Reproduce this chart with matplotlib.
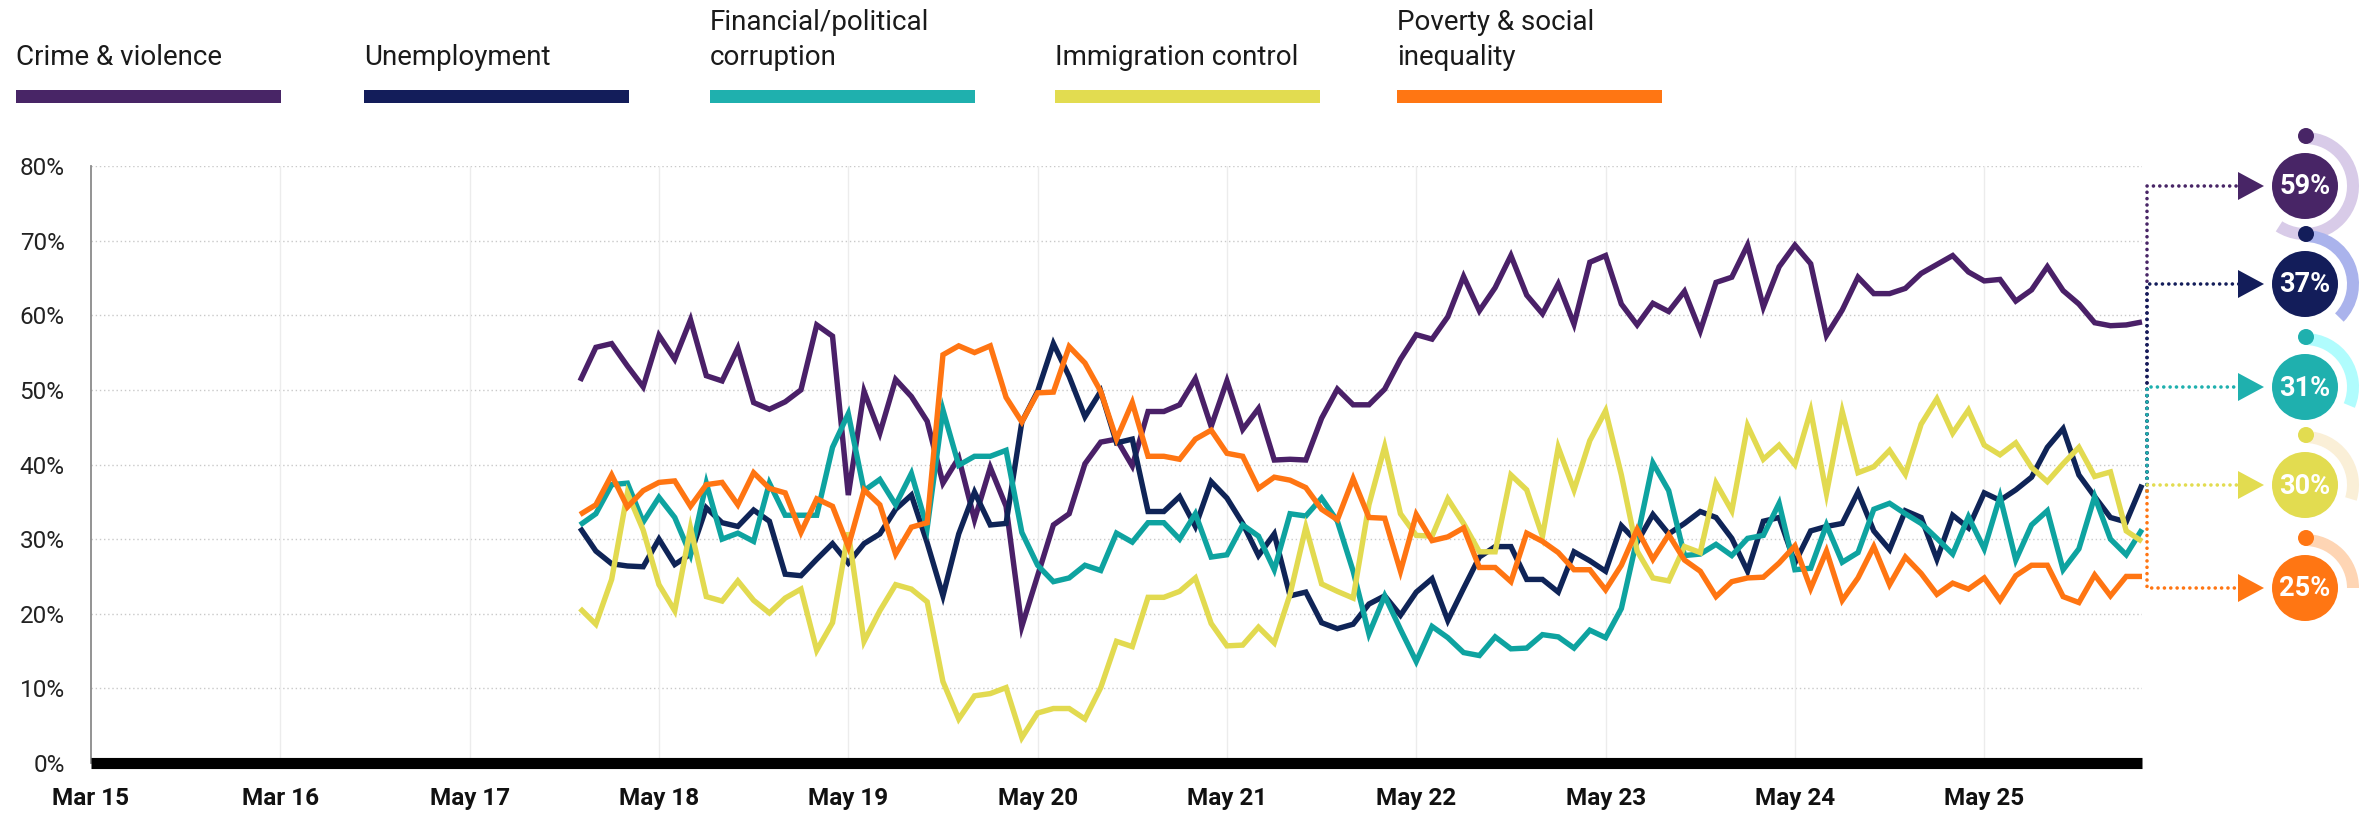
import numpy as np
import matplotlib
matplotlib.use("Agg")
import matplotlib.pyplot as plt
from matplotlib.patches import Circle, Wedge, Polygon, Rectangle

plt.rcParams['font.family'] = ['Roboto', 'DejaVu Sans']

# ---------------- data ----------------
categories = ["Crime & violence", "Unemployment", "Financial/political\ncorruption",
              "Immigration control", "Poverty & social\ninequality"]

tick_labels = ["Mar 15", "Mar 16", "May 17", "May 18", "May 19", "May 20",
               "May 21", "May 22", "May 23", "May 24", "May 25"]
tick_months = [0, 12, 24, 36, 48, 60, 72, 84, 96, 108, 120]

months = np.arange(31, 131)

crime = [51.2, 55.7, 56.2, 53.2, 50.4, 57.3, 54.1, 59.4, 51.9, 51.2,
         55.6, 48.3, 47.4, 48.4, 50.0, 58.7, 57.2, 35.9, 49.8, 44.2,
         51.4, 49.1, 45.8, 37.5, 40.9, 32.6, 39.6, 34.4, 18.3, 25.1,
         31.9, 33.4, 40.1, 43.0, 43.4, 39.8, 47.1, 47.1, 48.0, 51.5,
         45.1, 51.2, 44.7, 47.5, 40.6, 40.7, 40.6, 46.2, 50.1, 48.0,
         48.0, 50.1, 54.1, 57.4, 56.8, 59.8, 65.2, 60.6, 63.7, 68.0,
         62.7, 60.2, 64.2, 58.8, 67.1, 68.0, 61.5, 58.7, 61.6, 60.5,
         63.2, 57.9, 64.4, 65.1, 69.4, 61.1, 66.5, 69.4, 66.9, 57.3,
         60.7, 65.1, 62.9, 62.9, 63.6, 65.6, 66.8, 68.0, 65.8, 64.6,
         64.8, 61.9, 63.4, 66.5, 63.3, 61.5, 59.0, 58.6, 58.7, 59.1]

unemployment = [31.5, 28.4, 26.7, 26.4, 26.3, 30.0, 26.6, 28.0, 34.2, 32.2,
                31.7, 33.9, 32.4, 25.3, 25.1, 27.3, 29.4, 26.8, 29.4, 30.7,
                34.0, 35.9, 29.5, 22.4, 30.7, 36.3, 31.9, 32.1, 45.7, 49.8,
                56.2, 51.8, 46.4, 49.8, 42.9, 43.4, 33.7, 33.7, 35.7, 31.7,
                37.7, 35.5, 32.1, 27.8, 30.7, 22.4, 22.9, 18.8, 18.0, 18.6,
                21.3, 22.4, 19.8, 22.9, 24.7, 19.1, 23.4, 27.6, 29.0, 29.0,
                24.6, 24.6, 22.9, 28.3, 27.1, 25.7, 31.8, 29.6, 33.3, 30.7,
                32.1, 33.7, 32.9, 30.1, 25.7, 32.4, 32.9, 26.8, 31.1, 31.7,
                32.1, 36.3, 31.1, 28.6, 33.8, 32.9, 27.3, 33.2, 31.5, 36.2,
                35.2, 36.6, 38.3, 42.3, 44.8, 38.6, 35.7, 32.9, 32.3, 37.3]

corruption = [31.9, 33.4, 37.3, 37.5, 32.3, 35.6, 32.9, 27.9, 37.5, 30.0,
              30.8, 29.7, 37.5, 33.2, 33.2, 33.2, 42.3, 46.8, 36.5, 38.0,
              34.6, 38.8, 31.5, 47.3, 39.9, 41.1, 41.1, 41.9, 30.9, 26.5,
              24.3, 24.8, 26.5, 25.8, 30.8, 29.6, 32.2, 32.2, 30.0, 33.4,
              27.6, 27.9, 31.9, 30.4, 25.9, 33.4, 33.1, 35.5, 32.4, 25.7,
              17.3, 22.4, 17.9, 13.6, 18.3, 16.8, 14.8, 14.4, 16.9, 15.3,
              15.4, 17.2, 16.9, 15.4, 17.8, 16.8, 20.7, 30.1, 40.2, 36.5,
              27.8, 28.0, 29.3, 27.8, 30.1, 30.5, 34.8, 25.9, 26.1, 31.9,
              26.9, 28.2, 34.0, 34.8, 33.4, 32.1, 30.1, 28.0, 33.0, 28.7,
              35.7, 27.2, 31.9, 33.8, 25.9, 28.7, 35.7, 30.0, 27.9, 31.3]

immigration = [20.7, 18.6, 24.6, 36.2, 31.2, 23.9, 20.4, 31.5, 22.3, 21.7,
               24.4, 21.8, 20.1, 22.1, 23.3, 15.1, 18.8, 30.9, 16.3, 20.4,
               23.9, 23.3, 21.6, 10.9, 5.9, 9.0, 9.3, 10.1, 3.4, 6.7,
               7.3, 7.3, 5.9, 10.1, 16.3, 15.6, 22.2, 22.2, 23.0, 24.8,
               18.7, 15.7, 15.8, 18.2, 16.1, 22.6, 31.6, 24.0, 23.0, 22.1,
               34.6, 42.4, 33.4, 30.5, 30.4, 35.4, 32.1, 28.3, 28.3, 38.6,
               36.6, 30.4, 42.3, 36.6, 43.2, 47.2, 38.6, 28.4, 24.8, 24.4,
               29.0, 28.2, 37.5, 33.8, 45.2, 40.7, 42.6, 40.0, 47.2, 36.1,
               47.1, 38.9, 39.7, 41.9, 38.7, 45.4, 48.8, 44.2, 47.3, 42.6,
               41.3, 42.9, 39.6, 37.7, 40.1, 42.3, 38.4, 39.0, 31.1, 29.7]

poverty = [33.3, 34.6, 38.6, 34.3, 36.5, 37.6, 37.8, 34.4, 37.3, 37.6,
           34.6, 38.9, 36.8, 36.2, 30.9, 35.4, 34.4, 29.0, 36.6, 34.6,
           28.0, 31.6, 32.2, 54.7, 55.9, 55.0, 55.9, 49.0, 45.7, 49.6,
           49.7, 55.8, 53.6, 49.8, 43.4, 48.3, 41.1, 41.1, 40.7, 43.4,
           44.6, 41.5, 41.1, 36.8, 38.3, 37.9, 36.9, 34.0, 32.6, 38.1,
           32.9, 32.8, 25.7, 33.3, 29.8, 30.3, 31.5, 26.2, 26.2, 24.3,
           30.8, 29.7, 28.2, 25.9, 25.9, 23.2, 26.5, 31.3, 27.3, 30.6,
           27.2, 25.7, 22.3, 24.3, 24.8, 24.9, 26.8, 29.1, 23.4, 28.4,
           21.8, 24.8, 29.0, 23.9, 27.6, 25.4, 22.6, 24.1, 23.3, 24.8,
           21.8, 25.1, 26.5, 26.5, 22.3, 21.5, 25.2, 22.4, 25.0, 25.0]

series = [crime, unemployment, corruption, immigration, poverty]

# ---------------- styles ----------------
line_colors = ['#4a2068', '#0f2457', '#0ea3a0', '#e2da50', '#ff7512']
main_colors = ['#482566', '#131d5a', '#1fb0ae', '#e2dc50', '#ff7613']
ring_colors = ['#d8cbe8', '#aab3ec', '#b0fcfd', '#faefd7', '#fed5b4']

W, H = 2380, 815
fig = plt.figure(figsize=(W / 100, H / 100), dpi=100)

ax = fig.add_axes([91 / W, 52 / H, (2142 - 91) / W, (649 - 52) / H])
ax.set_xlim(0, 130)
ax.set_ylim(0, 80)
for s in ['top', 'right', 'bottom']:
    ax.spines[s].set_visible(False)
ax.spines['left'].set_color('#8a8a8a')
ax.spines['left'].set_linewidth(1.3)

# grid
for v in range(10, 81, 10):
    ax.axhline(v, color='#c9c9c9', lw=1.0, ls=(0, (1, 2)), zorder=0)
for m in tick_months[1:]:
    ax.axvline(m, color='#ececec', lw=1.0, zorder=0)

for vals, c in zip(series, line_colors):
    ax.plot(months, vals, color=c, lw=3.9, solid_joinstyle='miter',
            solid_capstyle='butt', clip_on=False, zorder=3)

ax.plot([0, 130], [0, 0], color='black', lw=8, solid_capstyle='butt',
        clip_on=False, zorder=5)

ax.set_xticks(tick_months)
ax.set_xticklabels(tick_labels, fontsize=17.5, fontweight='bold', color='#111111')
ax.set_yticks(range(0, 81, 10))
ax.set_yticklabels([f"{v}%" for v in range(0, 81, 10)], fontsize=17.5, color='#222222')
ax.tick_params(axis='x', length=0, pad=17)
ax.tick_params(axis='y', length=0, pad=19)

# ---------------- overlay (pixel coordinates) ----------------
ov = fig.add_axes([0, 0, 1, 1])
ov.set_xlim(0, W)
ov.set_ylim(H, 0)
ov.axis('off')
ov.patch.set_alpha(0)

# legend
legend_x = [16, 364, 710, 1055, 1397]
for lab, c, x0 in zip(categories, main_colors, legend_x):
    lines = lab.split('\n')
    for j, line in enumerate(reversed(lines)):
        ov.text(x0, 65 - 35 * j, line, ha='left', va='baseline',
                fontsize=20, color='#1a1a1a')
    ov.add_patch(Rectangle((x0, 90), 265, 13, color=c, lw=0))

# badges + connectors (fan out from the mean of the last values)
last_vals = [v[-1] for v in series]
mean_last = float(np.mean(last_vals))
_, oy = ov.transData.inverted().transform(ax.transData.transform((months[-1], mean_last)))
badge_y = [186, 284, 387, 485, 588]
cx = 2305
vx = 2147
dot_ls = (0, (0.01, 1.75))
for k, (vals, c, rc, by) in enumerate(zip(series, main_colors, ring_colors, badge_y)):
    ov.plot([vx, vx, 2240], [oy, by, by], color=c, lw=2.6, ls=dot_ls,
            dash_capstyle='round', zorder=2 + k * 0.1)
    ov.add_patch(Polygon([[2238, by - 14], [2238, by + 14], [2264, by]],
                         closed=True, color=c, lw=0, zorder=3))
    frac = vals[-1] / 100.0
    ov.add_patch(Wedge((cx, by), 54, -90, -90 + 360 * frac, width=12,
                       color=rc, lw=0, zorder=2))
    ov.add_patch(Circle((cx, by), 33, color=c, lw=0, zorder=4))
    ov.add_patch(Circle((cx + 1, by - 50), 8, color=c, lw=0, zorder=4))
    ov.text(cx, by + 1, f"{round(vals[-1])}%", ha='center', va='center',
            fontsize=19.5, fontweight='bold', color='white', zorder=5)

fig.savefig("out.png", dpi=100)
